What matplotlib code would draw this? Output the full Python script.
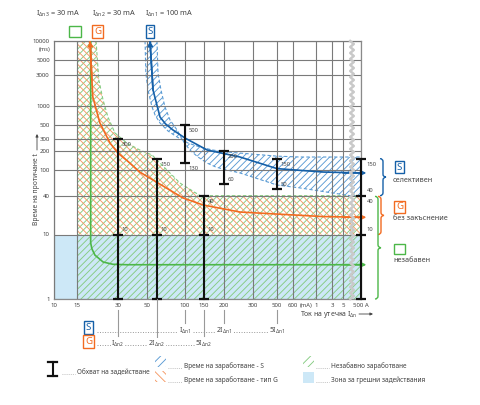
import numpy as np
import matplotlib
matplotlib.use("Agg")
import matplotlib.pyplot as plt
from matplotlib.patches import Rectangle, PathPatch
from matplotlib.path import Path
from matplotlib.lines import Line2D
from matplotlib.ticker import NullLocator
from matplotlib.transforms import IdentityTransform, blended_transform_factory

plt.rcParams['font.family'] = ['Noto Sans', 'DejaVu Sans']
plt.rcParams['mathtext.fontset'] = 'custom'
plt.rcParams['mathtext.rm'] = 'Noto Sans'
plt.rcParams['mathtext.it'] = 'Noto Sans:italic'
plt.rcParams['hatch.linewidth'] = 0.65

# ---- data (mA, ms) ----
x_ticks = [10, 15, 30, 50, 100, 150, 200, 300, 500, 600, 1000, 3000, 5000, 500000]
x_labels = ['10', '15', '30', '50', '100', '150', '200', '300', '500', '600', '1', '3', '5', '500 A']
y_ticks = [1, 10, 40, 100, 200, 300, 500, 1000, 3000, 5000, 10000]
y_labels = ['1', '10', '40', '100', '200', '300', '500', '1000', '3000', '5000', '10000']

# instantaneous RCD (green curve)
inst_ma = [18.9, 18.9, 19.3, 20.3, 23.3, 27.5, 35, 500000]
inst_ms = [10000, 7.4, 6.0, 4.8, 3.75, 3.45, 3.4, 3.4]
# type G (orange curve)
g_ma = [18.7, 19.3, 19.6, 22.1, 26.2, 30, 37, 44, 55.8, 96, 147, 250, 1500, 500000]
g_ms = [10000, 2485, 1355, 535, 262, 183, 128, 93, 70, 37, 28.7, 22.3, 19, 18.5]
# selective S (blue curve and band)
s_ma = [52.8, 55.8, 63.4, 70, 80.3, 100, 157, 250, 500, 1617, 500000]
s_ms = [10000, 1740, 663, 520, 417, 313, 204, 159, 105, 93, 90]
s_hi_ma = [48.3, 49.0, 50.9, 54.8, 57.9, 63.4, 73.4, 86.5, 106.6, 137.8, 170, 208, 250, 500, 700, 500000]
s_hi_ms = [10000, 3190, 1740, 948, 713, 535, 402, 325, 262, 227, 204, 190, 183, 164, 159, 159]
s_lo_ma = [60.0, 61.1, 64.5, 69.4, 76.1, 86.5, 96.4, 111, 132, 157, 178, 208, 250, 500, 701, 30000, 500000]
s_lo_ms = [10000, 3190, 1740, 948, 596, 417, 282, 204, 159, 128, 111, 100, 90, 58.5, 52.7, 40, 39]
# edge of the instantaneous-trip zone (green/orange cross hatch)
zone_ma = [20.7, 21.7, 23.3, 25.3, 28.5, 35.1, 44.1, 54.8, 91, 138]
zone_ms = [10000, 2485, 1218, 663, 375, 262, 204, 171, 63, 40]
zone_min_ma = 15
false_trip_ms = 10
g_limit_ms = 40

# operating ranges (I-bars)
g_bar_ma = [30, 60, 150]
g_bar_top = [300, 150, 40]
s_bar_ma = [100, 200, 500]
s_bar_top = [500, 200, 150]
s_bar_bot = [130, 60, 50]
end_bar_ticks = [150, 40, 10, 1]

GREEN = '#4cb748'
GREEN_H = '#86cc82'
ORANGE = '#f26b21'
ORANGE_H = '#f59a66'
BLUE = '#1560a8'
BLUE_H = '#5a9bd4'
FALSE_FILL = '#cde8f7'
GRID = '#7a7a7a'
TXT = '#444444'

W, H = 480, 405
R = 500000

# piecewise-log current axis (broken after 5 A)
kn_ma = np.array([10, 15, 30, 50, 100, 150, 200, 300, 500, 600, 1000, 3000, 5000, 500000, 1e7])
kn_px = np.array([54, 77, 118, 147, 185, 204, 224, 253, 277, 293, 316, 332, 343, 361, 370], float)
kn_lg = np.log10(kn_ma)


def fwd(x):
    x = np.maximum(np.asarray(x, float), 1e-6)
    return np.interp(np.log10(x), kn_lg, kn_px)


def inv(p):
    return 10 ** np.interp(np.asarray(p, float), kn_px, kn_lg)


def P(x, y):
    return x / W, 1 - y / H


fig = plt.figure(figsize=(4.8, 4.05), dpi=100)
ax = fig.add_axes([54 / W, 1 - 299 / H, (361 - 54) / W, (299 - 41) / H])
ax.set_xscale('function', functions=(fwd, inv))
ax.set_yscale('log')
ax.set_xlim(10, R)
ax.set_ylim(1, 10000)
ax.set_xticks(x_ticks, x_labels)
ax.set_yticks(y_ticks, y_labels)
ax.xaxis.set_minor_locator(NullLocator())
ax.yaxis.set_minor_locator(NullLocator())
ax.tick_params(length=0, labelsize=4.4, colors=TXT, pad=3)
ax.grid(True, color=GRID, lw=0.8)
ax.set_axisbelow(False)
for s in ax.spines.values():
    s.set_color('#8a8a8a')
    s.set_linewidth(0.9)

H_FWD = '/' * 5
H_BCK = '\\' * 5

# false-trip zone
ax.fill_between([10, R], 1, false_trip_ms, color=FALSE_FILL, lw=0, zorder=0.5)

# instantaneous zone (green) and type G zone (orange)
gx = [zone_min_ma, zone_min_ma] + zone_ma + [R, R]
ax.fill(gx, [1, 10000] + zone_ms + [g_limit_ms, 1], facecolor='none',
        edgecolor=GREEN_H, hatch=H_FWD, lw=0, zorder=1)
ax.fill(gx, [false_trip_ms, 10000] + zone_ms + [g_limit_ms, false_trip_ms], facecolor='none',
        edgecolor=ORANGE_H, hatch=H_BCK, lw=0, zorder=1)
ax.plot(zone_ma + [R], zone_ms + [g_limit_ms], color=GREEN_H, lw=0.8, ls=(0, (3, 2)), zorder=1.2)
ax.plot([zone_min_ma, zone_min_ma], [1, 10000], color=GREEN_H, lw=0.8, ls=(0, (3, 2)), zorder=1.2)

# selective band
ax.fill(s_hi_ma + s_lo_ma[::-1], s_hi_ms + s_lo_ms[::-1], facecolor='none',
        edgecolor=BLUE_H, hatch=H_FWD, lw=0, zorder=1)
ax.plot(s_hi_ma, s_hi_ms, color=BLUE_H, lw=0.8, ls=(0, (3, 2)), zorder=1.2)
ax.plot(s_lo_ma, s_lo_ms, color=BLUE_H, lw=0.8, ls=(0, (3, 2)), zorder=1.2)

# characteristic curves with arrows
for xs, ys, c, top_arrow in [(inst_ma, inst_ms, GREEN, False), (g_ma, g_ms, ORANGE, True),
                             (s_ma, s_ms, BLUE, True)]:
    ax.plot(xs, ys, color=c, lw=1.2, zorder=3, solid_capstyle='butt', solid_joinstyle='round')
    ax.annotate('', xy=(3e6, ys[-1]), xytext=(5000, ys[-1]), annotation_clip=False,
                arrowprops=dict(arrowstyle='-|>', color=c, lw=1.2, mutation_scale=7,
                                shrinkA=0, shrinkB=0), zorder=3)
    if top_arrow:
        ax.annotate('', xy=(xs[0], ys[0]), xytext=(xs[1], ys[1]),
                    arrowprops=dict(arrowstyle='-|>', color=c, lw=1.2, mutation_scale=7,
                                    shrinkA=0, shrinkB=0), zorder=3)


# operating range bars
def ibar(x, ticks):
    ax.plot([x, x], [min(ticks), max(ticks)], color='#111111', lw=1.5, zorder=4, clip_on=False)
    ax.plot([x] * len(ticks), ticks, ls='none', marker='_', ms=6.5, mew=1.6,
            color='#111111', zorder=4, clip_on=False)


def blabel(x, y, s, below=True, dx=2.5):
    ax.annotate(s, (x, y), xytext=(dx, -4 if below else 3.5), textcoords='offset points',
                fontsize=4.2, color=TXT, va='center', ha='left', zorder=5,
                annotation_clip=False)


for x, top in zip(g_bar_ma, g_bar_top):
    ibar(x, [top, false_trip_ms, 1])
    blabel(x, top, str(top))
    blabel(x, false_trip_ms, str(false_trip_ms), below=False)
for x, top, bot in zip(s_bar_ma, s_bar_top, s_bar_bot):
    ibar(x, [top, bot])
    blabel(x, top, str(top))
    blabel(x, bot, str(bot), below=(x == 100))
ibar(R, end_bar_ticks)
blabel(R, 150, '150', dx=4)
blabel(R, 40, '40', below=False, dx=4)
blabel(R, 40, '40', dx=4)
blabel(R, 10, '10', below=False, dx=4)

# broken-axis wavy line
wy = np.arange(41, 300, 3.0)
wx = 352 + 1.8 * np.where(np.arange(len(wy)) % 2 == 0, -1, 1)
fig.add_artist(Line2D(wx, H - wy, transform=IdentityTransform(), color='#c9c9c9', lw=1.8, zorder=3))

# axis texts
fig.text(*P(45, 49), '(ms)', fontsize=4.2, color=TXT, ha='center', va='center')
fig.text(*P(300, 305), '(mA)', fontsize=4.2, color=TXT, ha='left', va='center')
fig.text(*P(37, 189), 'Време на протичане t', rotation=90, fontsize=4.8, color=TXT,
         ha='center', va='center')
ax.annotate('', xy=P(37, 134), xytext=P(37, 150), xycoords='figure fraction',
            arrowprops=dict(arrowstyle='-|>', color=TXT, lw=0.6, mutation_scale=4, shrinkA=0, shrinkB=0))
fig.text(*P(300, 315), r'Ток на утечка I$_{\mathrm{\Delta n}}$', fontsize=5, color=TXT, va='center')
ax.annotate('', xy=P(373, 314), xytext=P(359, 314), xycoords='figure fraction',
            arrowprops=dict(arrowstyle='-|>', color=TXT, lw=0.6, mutation_scale=4, shrinkA=0, shrinkB=0))

# top header
for x, s in [(36, r'I$_{\mathrm{\Delta n3}}$ = 30 mA'), (92, r'I$_{\mathrm{\Delta n2}}$ = 30 mA'),
             (145, r'I$_{\mathrm{\Delta n1}}$ = 100 mA')]:
    fig.text(*P(x, 14), s, fontsize=5.3, color=TXT, va='center')


def letter_box(x, y, s, c, fs=7):
    fig.text(*P(x, y), s, fontsize=fs, fontweight='bold', color=c, ha='center', va='center',
             bbox=dict(boxstyle='square,pad=0.18', fc='white', ec=c, lw=1.0))


def empty_box(x, y, w, h, c):
    fig.patches.append(Rectangle((x / W, 1 - (y + h) / H), w / W, h / H, transform=fig.transFigure,
                                 fill=False, ec=c, lw=1.0))


empty_box(69, 26, 12, 11, GREEN)
letter_box(97.5, 31.5, 'G', ORANGE)
letter_box(150, 31.5, 'S', BLUE)


# right braces and legend of RCD types
def brace(x, y0, y1, w, c):
    # x in picture px, y0/y1 in ms
    d0 = ax.transData.transform((R, y0))[1]
    d1 = ax.transData.transform((R, y1))[1]
    X = x * 1.0
    m = (d0 + d1) / 2
    r = 3
    verts = [(X - w, d0), (X, d0), (X, d0 - r), (X, m + r), (X, m), (X + w, m),
             (X, m), (X, m - r), (X, d1 + r), (X, d1), (X - w, d1)]
    codes = [Path.MOVETO, Path.CURVE3, Path.CURVE3, Path.LINETO, Path.CURVE3, Path.CURVE3,
             Path.CURVE3, Path.CURVE3, Path.LINETO, Path.CURVE3, Path.CURVE3]
    fig.patches.append(PathPatch(Path(verts, codes), transform=IdentityTransform(),
                                 fill=False, ec=c, lw=1.0))


brace(383, 150, 40, 3, BLUE)
brace(381, 39, 10, 3, ORANGE)
brace(378, 39, 1, 3, GREEN)

letter_box(399.5, 167, 'S', BLUE)
fig.text(*P(393, 180), 'селективен', fontsize=5.2, color=TXT, va='center')
letter_box(399.5, 207, 'G', ORANGE)
fig.text(*P(393, 219), 'без закъснение', fontsize=5.2, color=TXT, va='center')
empty_box(394, 244, 11, 10, GREEN)
fig.text(*P(393, 260), 'незабавен', fontsize=5.2, color=TXT, va='center')

# S / G multiples of rated current under the axis
bt = blended_transform_factory(ax.transData, fig.transFigure)
letter_box(88.5, 327.5, 'S', BLUE)
letter_box(88.5, 341.5, 'G', ORANGE)
fig.add_artist(Line2D([97 / W, 268 / W], [1 - 331.5 / H] * 2, transform=fig.transFigure,
                      color='#999999', lw=0.7, ls=(0, (1, 1.6))))
fig.add_artist(Line2D([97 / W, 195 / W], [1 - 345 / H] * 2, transform=fig.transFigure,
                      color='#999999', lw=0.7, ls=(0, (1, 1.6))))
for x, y0, y1 in [(100, 310, 323), (200, 310, 323), (500, 310, 323), (30, 310, 336),
                  (150, 310, 336), (60, 299, 337)]:
    fig.add_artist(Line2D([x, x], [1 - y0 / H, 1 - y1 / H], transform=bt, color='#999999', lw=0.8))
for x, k, n, y in [(100, '', '1', 333), (200, '2', '1', 333), (500, '5', '1', 333),
                   (30, '', '2', 346), (60, '2', '2', 346), (150, '5', '2', 346)]:
    fig.text(x, 1 - y / H, k + r'I$_{\mathrm{\Delta n' + n + '}}$', transform=bt, fontsize=5,
             color=TXT, ha='center', va='baseline',
             bbox=dict(boxstyle='square,pad=0.1', fc='white', ec='none'))

# bottom legend
lx = 52.5
fig.add_artist(Line2D([lx / W] * 2, [1 - 362 / H, 1 - 376 / H], transform=fig.transFigure,
                      color='#111111', lw=1.5))
for yy in (362, 376):
    fig.add_artist(Line2D([(lx - 4.5) / W, (lx + 4.5) / W], [1 - yy / H] * 2,
                          transform=fig.transFigure, color='#111111', lw=1.6))


def dots(x0, x1, y):
    fig.add_artist(Line2D([x0 / W, x1 / W], [1 - y / H] * 2, transform=fig.transFigure,
                          color='#aaaaaa', lw=0.6, ls=(0, (1, 1.5))))


def hatch_box(x, y, c, h, fc='none'):
    fig.patches.append(Rectangle((x / W, 1 - (y + 11) / H), 11 / W, 11 / H, transform=fig.transFigure,
                                 facecolor=fc, edgecolor=c, hatch=h, lw=0))


LFS = 4.7
dots(62, 75, 374)
fig.text(*P(77, 372), 'Обхват на задействане', fontsize=LFS, color=TXT, va='center')
hatch_box(155, 356, BLUE_H, '////')
dots(168, 182, 368)
fig.text(*P(184, 366), 'Време на заработване - S', fontsize=LFS, color=TXT, va='center')
hatch_box(155, 371, ORANGE_H, '\\\\\\\\')
dots(168, 182, 382)
fig.text(*P(184, 380), 'Време на заработване - тип G', fontsize=LFS, color=TXT, va='center')
hatch_box(303, 356, GREEN_H, '////')
dots(316, 329, 368)
fig.text(*P(331, 366), 'Незабавно заработване', fontsize=LFS, color=TXT, va='center')
fig.patches.append(Rectangle((303 / W, 1 - 383 / H), 11 / W, 11 / H, transform=fig.transFigure,
                             facecolor=FALSE_FILL, lw=0))
dots(316, 329, 382)
fig.text(*P(331, 380), 'Зона за грешни задействания', fontsize=LFS, color=TXT, va='center')

fig.savefig('out.png', dpi=100)
